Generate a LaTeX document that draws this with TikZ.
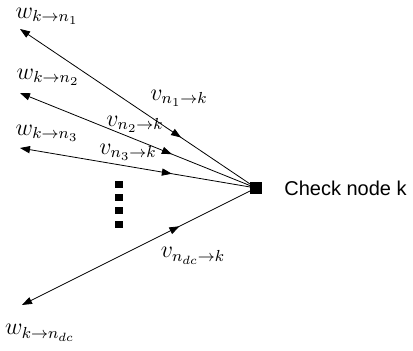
\documentclass[tikz,border=0pt]{standalone}
\usepackage{amsmath}
\usepackage{amssymb}
\usepackage{fontspec}
\newfontfamily\labelfont{Liberation Sans}
\usepackage{tikz}
\usetikzlibrary{arrows,arrows.meta,decorations.markings,positioning}

\begin{document}
\begin{tikzpicture}[x=0.5pt,y=-0.5pt,
                        check/.style={draw, rectangle, fill=black, minimum size=5.5pt, inner sep=0pt},
                        dotbox/.style={rectangle, fill=black, minimum width=4pt, minimum height=3.5pt, inner sep=0pt},
                        msg/.style={font=\fontsize{11.5}{13}\selectfont, inner sep=0pt},
                        link/.style={-{Triangle[length=5pt,width=3.6pt]}},
                        midarrow/.style={postaction={decorate}, decoration={markings,
                            mark=at position #1 with {\arrowreversed{Triangle[length=5pt,width=3.6pt]}}}}]
                        \useasboundingbox (0,0) rectangle (413,351);
                        \node[check] (k) at (256,188) {};
                        \node[anchor=west, inner sep=0pt, font=\labelfont\fontsize{10}{12}\selectfont] (name) at (284,188) {Check node k};
                        \coordinate (e1) at (20,29);
                        \coordinate (e2) at (20,93);
                        \coordinate (e3) at (20,148);
                        \coordinate (e4) at (22,305);
                        \draw [link, midarrow=0.30] (k) -- (e1);
                        \draw [link, midarrow=0.34] (k) -- (e2);
                        \draw [link, midarrow=0.34] (k) -- (e3);
                        \draw [link, midarrow=0.31] (k) -- (e4);
                        \node[msg] (w1) at (47,16) {$w_{k\rightarrow n_1}$};
                        \node[msg] (w2) at (48,77) {$w_{k\rightarrow n_2}$};
                        \node[msg] (w3) at (47,133) {$w_{k\rightarrow n_3}$};
                        \node[msg] (w4) at (40,333) {$w_{k\rightarrow n_{dc}}$};
                        \node[msg] (v1) at (179,98) {$v_{n_1\rightarrow k}$};
                        \node[msg] (v2) at (135,124) {$v_{n_2\rightarrow k}$};
                        \node[msg] (v3) at (128,152) {$v_{n_3\rightarrow k}$};
                        \node[msg] (v4) at (193,256) {$v_{n_{dc}\rightarrow k}$};
                        \foreach \i/\y in {1/185,2/198,3/211,4/225}
                            \node[dotbox] (dot\i) at (119,\y) {};
                        \end{tikzpicture}
\end{document}
